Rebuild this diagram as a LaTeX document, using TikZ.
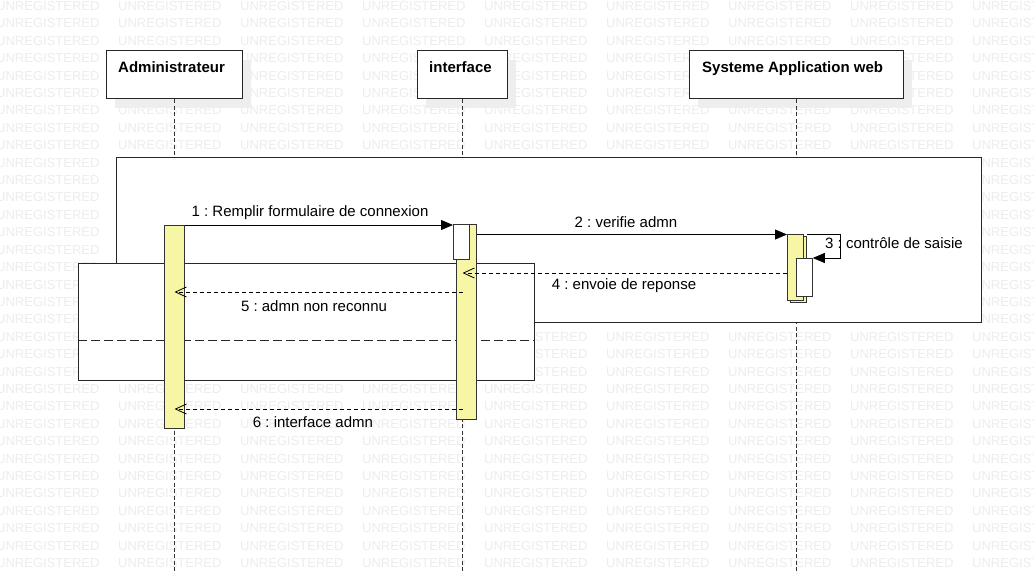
\documentclass[tikz,border=0pt]{standalone}
\usepackage{fontspec}
\setmainfont{Liberation Sans}
\usetikzlibrary{positioning,arrows.meta,shadows}
\definecolor{actyellow}{RGB}{246,246,164}
\definecolor{wmgray}{RGB}{237,237,237}
\definecolor{shadowgray}{RGB}{238,238,238}
\tikzset{
  wmark/.style={anchor=west, inner sep=0pt, text=wmgray, font=\fontsize{13}{13}\selectfont},
  headbox/.style={anchor=north west, draw=black!85, fill=white, line width=1pt, inner sep=0pt,
    drop shadow={shadow xshift=8pt, shadow yshift=-9pt, fill=shadowgray, opacity=1}},
  headtext/.style={inner sep=0pt, font=\fontsize{15}{18}\selectfont\bfseries},
  lifeline/.style={draw=black!80, line width=1.3pt, dash pattern=on 4pt off 2.5pt},
  framebox/.style={anchor=north west, draw=black!85, fill=white, line width=1pt, inner sep=0pt},
  guard/.style={draw=black!85, line width=1pt, dash pattern=on 9pt off 4pt},
  actbar/.style={anchor=north west, draw=black!80, fill=actyellow, line width=0.8pt, inner sep=0pt},
  actbox/.style={anchor=north west, draw=black!80, fill=white, line width=0.8pt, inner sep=0pt},
  call/.style={draw=black, line width=0.8pt, -{Triangle[length=12pt,width=10pt]}},
  reply/.style={draw=black, line width=0.8pt, dash pattern=on 4pt off 3pt,
    -{Straight Barb[length=11pt,width=10pt,line width=0.8pt]}},
  msgtext/.style={inner sep=0pt, font=\fontsize{15}{18}\selectfont\frenchspacing}
}
\begin{document}
\begin{tikzpicture}[x=1pt,y=-1pt]
  \useasboundingbox (0,0) rectangle (1034,571);
  \fill[white] (0,0) rectangle (1034,571);
  % watermark
  \begin{scope}
    \clip (0,0) rectangle (1034,571);
    \foreach \r in {0,...,32}
      \foreach \c in {0,...,8}
        \node[wmark] (wm-\r-\c) at (-4+122*\c, 6+17.41*\r) {UNREGISTERED};
  \end{scope}
  % heads
  \node[headbox, minimum width=136pt, minimum height=48pt] (adm) at (106,50) {};
  \node[headbox, minimum width=90pt, minimum height=48pt] (intf) at (417,50) {};
  \node[headbox, minimum width=214pt, minimum height=48pt] (sys) at (689,50) {};
  \node[headtext, below right=11pt and 12pt of adm.north west] (admt) {Administrateur};
  \node[headtext, below right=11pt and 12pt of intf.north west] (intft) {interface};
  \node[headtext, below right=11pt and 13pt of sys.north west] (syst) {Systeme Application web};
  % lifelines
  \coordinate (bottom) at (0,571);
  \draw[lifeline] (adm.south) -- (adm.south |- bottom);
  \draw[lifeline] (intf.south) -- (intf.south |- bottom);
  \draw[lifeline] (sys.south) -- (sys.south |- bottom);
  % fragments
  \node[framebox, minimum width=865pt, minimum height=165pt] (loopfr) at (116,157) {};
  \node[framebox, minimum width=456pt, minimum height=117pt] (altfr) at (78,263) {};
  \coordinate (guardy) at (0,340);
  \draw[guard] (altfr.west |- guardy) -- (altfr.east |- guardy);
  % activations
  \node[actbar, minimum width=20pt, minimum height=203pt] (admact) at (164,225) {};
  \node[actbar, minimum width=20pt, minimum height=195pt] (intact) at (456,224) {};
  \node[actbox, minimum width=16pt, minimum height=35pt] (intbox) at (453,224) {};
  \node[actbar, minimum width=16pt, minimum height=66pt] (sysback) at (790,236) {};
  \node[actbar, minimum width=16pt, minimum height=66pt] (sysact) at (787,234) {};
  \node[actbox, minimum width=16pt, minimum height=38pt] (sysbox) at (796,258) {};
  % labels
  \node[msgtext] (l1) at (310,213) {1 : Remplir formulaire de connexion};
  \node[msgtext] (l2) at (626,222) {2 : verifie admn};
  \node[msgtext, anchor=west] (l3) at (825,243) {3 : contrôle de saisie};
  \node[msgtext] (l4) at (624,286) {4 : envoie de reponse};
  \node[msgtext] (l5) at (314,306) {5 : admn non reconnu};
  \node[msgtext] (l6) at (313,422) {6 : interface admn};
  % messages
  \coordinate (y1) at (0,225);
  \coordinate (y2) at (0,234.5);
  \coordinate (y3) at (0,258);
  \coordinate (y4) at (0,273);
  \coordinate (y5) at (0,292);
  \coordinate (y6) at (0,409);
  \coordinate (selfc) at (840,234.5);
  \draw[call] (admact.east |- y1) -- (intbox.west |- y1);
  \draw[call] (intact.east |- y2) -- (sysact.west |- y2);
  \draw[call] (sysback.east |- y2) -- (selfc) |- (sysbox.east |- y3);
  \draw[reply] (sysact.west |- y4) -- (intf.south |- y4);
  \draw[reply] (intf.south |- y5) -- (adm.south |- y5);
  \draw[reply] (intf.south |- y6) -- (adm.south |- y6);
\end{tikzpicture}
\end{document}
